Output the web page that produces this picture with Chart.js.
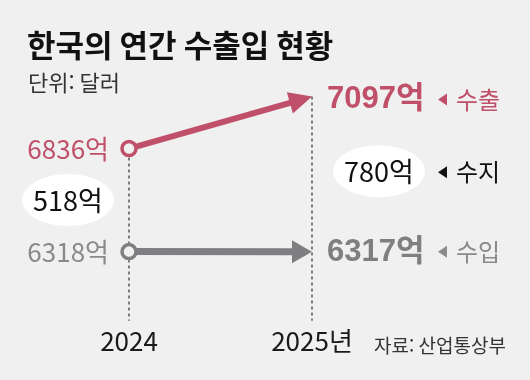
<!DOCTYPE html>
<html lang="ko">
<head>
<meta charset="utf-8">
<title>한국의 연간 수출입 현황</title>
<script src="https://cdn.jsdelivr.net/npm/chart.js@4.4.1/dist/chart.umd.min.js"></script>
<style>
    html, body { margin: 0; padding: 0; background: #f0f0f0; }
    #wrap { width: 530px; height: 380px; position: relative; }
</style>
</head>
<body>
<div id="wrap"><canvas id="tradeChart"></canvas></div>
<script>
"use strict";

// ---- data ----
const years = ['2024', '2025년'];
const exportValues = [6836, 7097];
const importValues = [6318, 6317];
const seriesNames = ['수출', '수입'];
const balanceName = '수지';
const unitLabel = '억';
const titleText = '한국의 연간 수출입 현황';
const unitText = '단위: 달러';
const sourceText = '자료: 산업통상부';

// ---- styles ----
const bgColor = '#f0f0f0';
const exportColor = '#c0506a';
const importColor = '#7f7f82';
const importTextColor = '#8a8a8a';
const NUM_FONT = '"Liberation Sans", "Noto Sans CJK KR", sans-serif';
const KR_FONT = '"Noto Sans CJK KR", "Liberation Sans", sans-serif';

function drawArrow(ctx, from, to, color, width, headLen, headHalf) {
    const dx = to.x - from.x, dy = to.y - from.y;
    const len = Math.hypot(dx, dy);
    const ux = dx / len, uy = dy / len;
    const bx = to.x - ux * headLen, by = to.y - uy * headLen;
    ctx.save();
    ctx.strokeStyle = color;
    ctx.lineWidth = width;
    ctx.beginPath();
    ctx.moveTo(from.x, from.y);
    ctx.lineTo(bx + ux * 2, by + uy * 2);
    ctx.stroke();
    ctx.fillStyle = color;
    ctx.beginPath();
    ctx.moveTo(to.x, to.y);
    ctx.lineTo(bx - uy * headHalf, by + ux * headHalf);
    ctx.lineTo(bx + uy * headHalf, by - ux * headHalf);
    ctx.closePath();
    ctx.fill();
    ctx.restore();
}

function drawPointer(ctx, x, y, color) {
    // small left-pointing triangle before the series name
    ctx.save();
    ctx.fillStyle = color;
    ctx.beginPath();
    ctx.moveTo(x, y);
    ctx.lineTo(x + 9, y - 6);
    ctx.lineTo(x + 9, y + 6);
    ctx.closePath();
    ctx.fill();
    ctx.restore();
}

function drawBubble(ctx, cx, cy, text) {
    ctx.save();
    ctx.fillStyle = '#ffffff';
    ctx.beginPath();
    ctx.ellipse(cx, cy, 46, 26, 0, 0, Math.PI * 2);
    ctx.fill();
    ctx.fillStyle = '#111111';
    ctx.font = '27px ' + KR_FONT;
    ctx.textAlign = 'center';
    ctx.textBaseline = 'middle';
    ctx.fillText(text, cx, cy + 1);
    ctx.restore();
}

const tradePlugin = {
    id: 'tradeDecor',
    beforeDraw(chart) {
        const ctx = chart.ctx;
        ctx.save();
        ctx.fillStyle = bgColor;
        ctx.fillRect(0, 0, chart.width, chart.height);
        ctx.textBaseline = 'middle';
        ctx.textAlign = 'left';
        ctx.fillStyle = '#111111';
        ctx.font = 'bold 31px ' + KR_FONT;
        ctx.fillText(titleText, 27, 45);
        ctx.fillStyle = '#333333';
        ctx.font = '22px ' + KR_FONT;
        ctx.fillText(unitText, 28, 83);
        ctx.font = '19px ' + KR_FONT;
        ctx.fillText(sourceText, 374, 346);
        ctx.restore();
    },
    beforeDatasetsDraw(chart) {
        const ctx = chart.ctx;
        const exp = chart.getDatasetMeta(0).data;
        const imp = chart.getDatasetMeta(1).data;
        const bottom = chart.chartArea.bottom - 5;

        // dashed year guides
        ctx.save();
        ctx.strokeStyle = '#333333';
        ctx.lineWidth = 1.2;
        ctx.setLineDash([3, 3]);
        ctx.beginPath();
        ctx.moveTo(exp[0].x, exp[0].y + 9);
        ctx.lineTo(exp[0].x, bottom);
        ctx.moveTo(exp[1].x, exp[1].y);
        ctx.lineTo(exp[1].x, bottom);
        ctx.stroke();
        ctx.restore();

        drawArrow(ctx, exp[0], exp[1], exportColor, 6, 23, 11);
        drawArrow(ctx, imp[0], imp[1], importColor, 7, 20, 11.5);
    },
    afterDatasetsDraw(chart) {
        const ctx = chart.ctx;
        const exp = chart.getDatasetMeta(0).data;
        const imp = chart.getDatasetMeta(1).data;

        ctx.save();
        ctx.textBaseline = 'middle';

        // 2024 values
        ctx.textAlign = 'right';
        ctx.font = '26px ' + KR_FONT;
        ctx.fillStyle = exportColor;
        ctx.fillText(exportValues[0] + unitLabel, exp[0].x - 20, exp[0].y + 1);
        ctx.fillStyle = importTextColor;
        ctx.fillText(importValues[0] + unitLabel, imp[0].x - 20, imp[0].y + 1);

        // 2025 values
        ctx.textAlign = 'left';
        ctx.font = 'bold 31px ' + NUM_FONT;
        ctx.fillStyle = exportColor;
        ctx.fillText(exportValues[1] + unitLabel, exp[1].x + 15, exp[1].y + 3);
        ctx.fillStyle = importColor;
        ctx.fillText(importValues[1] + unitLabel, imp[1].x + 15, imp[1].y + 1);

        // series names with pointers
        const px = exp[1].x + 126;
        const midY = (exp[1].y + imp[1].y) / 2 - 3;
        ctx.font = '24px ' + KR_FONT;
        drawPointer(ctx, px, exp[1].y + 3, exportColor);
        ctx.fillStyle = exportColor;
        ctx.fillText(seriesNames[0], px + 18, exp[1].y + 3);
        drawPointer(ctx, px, imp[1].y, importTextColor);
        ctx.fillStyle = importTextColor;
        ctx.fillText(seriesNames[1], px + 18, imp[1].y);
        drawPointer(ctx, px, midY + 1, '#111111');
        ctx.fillStyle = '#111111';
        ctx.fillText(balanceName, px + 18, midY + 1);
        ctx.restore();

        // balance bubbles
        drawBubble(ctx, exp[0].x - 61, (exp[0].y + imp[0].y) / 2,
            (exportValues[0] - importValues[0]) + unitLabel);
        drawBubble(ctx, exp[1].x + 67, midY,
            (exportValues[1] - importValues[1]) + unitLabel);
    }
};

document.addEventListener('DOMContentLoaded', function() {
    const ctx = document.getElementById('tradeChart');
    new Chart(ctx, {
        type: 'line',
        data: {
            labels: years,
            datasets: [
                {
                    label: seriesNames[0],
                    data: exportValues,
                    showLine: false,
                    pointRadius: [7, 0],
                    pointBorderWidth: 3.5,
                    pointBorderColor: exportColor,
                    pointBackgroundColor: bgColor
                },
                {
                    label: seriesNames[1],
                    data: importValues,
                    showLine: false,
                    pointRadius: [7, 0],
                    pointBorderWidth: 3.5,
                    pointBorderColor: importColor,
                    pointBackgroundColor: bgColor
                }
            ]
        },
        options: {
            responsive: true,
            maintainAspectRatio: false,
            animation: false,
            layout: {
                padding: { left: 129, right: 218, top: 96, bottom: 23 }
            },
            plugins: {
                legend: { display: false },
                tooltip: { enabled: false }
            },
            scales: {
                x: {
                    type: 'category',
                    offset: false,
                    grid: { display: false, drawTicks: false },
                    border: { display: false },
                    ticks: {
                        padding: 0,
                        color: '#1a1a1a',
                        font: { family: KR_FONT, size: 26 }
                    }
                },
                y: {
                    display: false,
                    min: 5945,
                    max: 7100
                }
            }
        },
        plugins: [tradePlugin]
    });
});
</script>
</body>
</html>
